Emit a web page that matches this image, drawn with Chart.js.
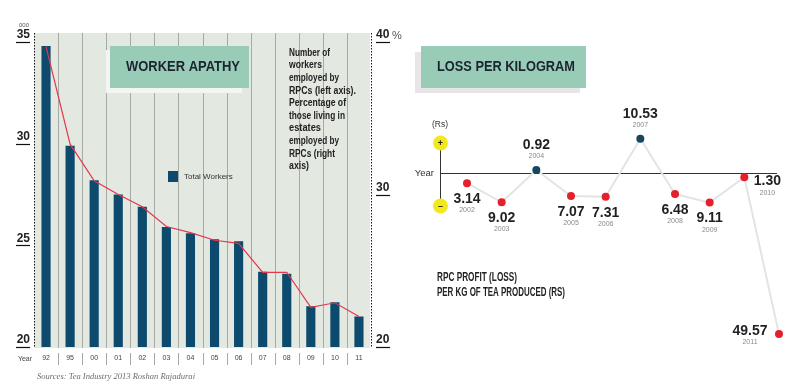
<!DOCTYPE html>
<html><head><meta charset="utf-8">
<script src="https://cdn.jsdelivr.net/npm/chart.js@4.4.0/dist/chart.umd.min.js"></script>
<style>
html,body{margin:0;padding:0;background:#fff;width:798px;height:389px;overflow:hidden}
#c1{position:absolute;left:0;top:0;width:405px;height:389px}
#c2{position:absolute;left:405px;top:0;width:393px;height:389px}
</style></head><body>
<canvas id="c1" width="405" height="389"></canvas>
<canvas id="c2" width="393" height="389"></canvas>
<script>
// ---- Data: Worker apathy ----
const workerYears = ['92','95','00','01','02','03','04','05','06','07','08','09','10','11'];
const totalWorkers = [34.8,29.9,28.2,27.5,26.9,25.9,25.6,25.3,25.2,23.7,23.6,22.0,22.2,21.5]; // '000, left axis
const estatePct = [39.7,33.3,30.9,30.0,29.2,27.9,27.5,27.0,26.8,24.9,24.9,22.6,22.9,22.0];    // %, right axis
const leftTicks = [20,25,30,35];
const rightTicks = [20,30,40];

// ---- Data: Loss per kilogram ----
const lossYears = ['2002','2003','2004','2005','2006','2007','2008','2009','2010','2011'];
const profitLoss = [-3.14,-9.02,0.92,-7.07,-7.31,10.53,-6.48,-9.11,-1.30,-49.57];

const SANS = "'Liberation Sans', Arial, sans-serif";
const SERIF = "'Liberation Serif', 'Times New Roman', serif";

function fitText(ctx, text, x, y, w, font, color, align){
  ctx.save();
  ctx.font = font; ctx.fillStyle = color; ctx.textBaseline = 'middle'; ctx.textAlign = 'left';
  const m = ctx.measureText(text).width;
  const s = w / m;
  const x0 = align === 'center' ? x - w/2 : x;
  ctx.translate(x0, y); ctx.scale(s, 1);
  ctx.fillText(text, 0, 0);
  ctx.restore();
}
function seg(ctx, x1, y1, x2, y2){ ctx.beginPath(); ctx.moveTo(x1,y1); ctx.lineTo(x2,y2); ctx.stroke(); }

const annotation = [
  ['Number of',53,41],['workers',65.6,33],['employed by',78.2,50],['RPCs (left axis).',90.8,67],
  ['Percentage of',103.4,57],['those living in',116,56],['estates',128.6,32],['employed by',141.2,50],
  ['RPCs (right',153.8,46],['axis)',166.4,20]
];

const leftDecor = {
  id:'leftDecor',
  beforeDatasetsDraw(chart){
    const {ctx, chartArea:a, scales:{x}} = chart;
    ctx.save();
    ctx.fillStyle = '#e3e8e1';
    ctx.fillRect(a.left, a.top-9, a.right - a.left - 1, a.bottom - a.top + 10);
    ctx.strokeStyle = '#a6aaa4'; ctx.lineWidth = 1;
    for (let i = 1; i < workerYears.length; i++){
      const gx = Math.round((x.getPixelForValue(i-1) + x.getPixelForValue(i))/2) + 0.5;
      seg(ctx, gx, a.top-9, gx, a.bottom+1);
      seg(ctx, gx, a.bottom+6, gx, a.bottom+18);
    }
    // title box
    ctx.fillStyle = '#f4f5f2'; ctx.fillRect(106, 50, 136, 43);
    ctx.fillStyle = '#98ccb7'; ctx.fillRect(110, 46, 139, 42);
    fitText(ctx, 'WORKER APATHY', 183, 67, 114, 'bold 14px ' + SANS, '#1c2331', 'center');
    ctx.restore();
  },
  afterDraw(chart){
    const {ctx, chartArea:a, scales:{y, y1}} = chart;
    ctx.save();
    // dotted axes
    ctx.strokeStyle = '#111'; ctx.lineWidth = 1; ctx.setLineDash([1.5,1.5]);
    seg(ctx, a.left+0.5, a.top-9, a.left+0.5, a.bottom+1);
    seg(ctx, a.right+0.5, a.top-9, a.right+0.5, a.bottom+1);
    ctx.setLineDash([]);
    // underlines
    ctx.lineWidth = 1.2;
    leftTicks.forEach(v => { const py = Math.round(y.getPixelForValue(v)) + 0.5; seg(ctx, a.left-18, py, a.left-4, py); });
    rightTicks.forEach(v => { const py = Math.round(y1.getPixelForValue(v)) + 0.5; seg(ctx, a.right+5, py, a.right+19, py); });
    // small texts
    ctx.fillStyle = '#555'; ctx.textBaseline = 'middle';
    ctx.font = '6px ' + SANS; ctx.textAlign = 'center'; ctx.fillText('000', 24, 25);
    ctx.font = '11px ' + SANS; ctx.textAlign = 'left'; ctx.fillText('%', 392, 36);
    ctx.fillStyle = '#444'; ctx.font = '7px ' + SANS; ctx.textAlign = 'center'; ctx.fillText('Year', 25, 359);
    fitText(ctx, 'Sources: Tea Industry 2013 Roshan Rajadurai', 37, 377, 158, 'italic 9px ' + SERIF, '#6b6b6b', 'left');
    // legend
    const ds = chart.data.datasets[0];
    ctx.fillStyle = ds.backgroundColor; ctx.fillRect(168, 171, 10, 11);
    ctx.fillStyle = '#333'; ctx.font = '8px ' + SANS; ctx.textAlign = 'left'; ctx.fillText(ds.label, 184, 177);
    // annotation
    annotation.forEach(([t, ly, w]) => fitText(ctx, t, 289, ly, w, 'bold 10.5px ' + SANS, '#222', 'left'));
    ctx.restore();
  }
};

new Chart(document.getElementById('c1'), {
  type:'bar',
  data:{
    labels: workerYears,
    datasets:[
      {type:'bar', label:'Total Workers', data: totalWorkers, yAxisID:'y', backgroundColor:'#0c4a6e',
       barPercentage:0.38, categoryPercentage:1, order:1},
      {type:'line', label:'Percentage living in estates employed by RPCs', data: estatePct, yAxisID:'y1',
       borderColor:'#e5364c', borderWidth:1.2, pointRadius:0, tension:0, order:0}
    ]
  },
  options:{
    responsive:false, animation:false, devicePixelRatio:1,
    layout:{padding:{top:42, left:0, right:0, bottom:0}},
    plugins:{legend:{display:false}, tooltip:{enabled:false}},
    scales:{
      x:{type:'category', offset:true, grid:{display:false, drawTicks:false}, border:{display:false},
         ticks:{font:{family:SANS, size:7}, color:'#444', padding:7, maxRotation:0, autoSkip:false},
         afterFit(s){ s.height = 42; }},
      y:{position:'left', min:20, max:35, grid:{display:false, drawTicks:false}, border:{display:false},
         afterBuildTicks(s){ s.ticks = leftTicks.map(v => ({value:v})); },
         ticks:{font:{family:SANS, size:12, weight:'bold'}, color:'#222', padding:4, labelOffset:-7},
         afterFit(s){ s.width = 34; }},
      y1:{position:'right', min:20, max:40, grid:{display:false, drawTicks:false}, border:{display:false},
         afterBuildTicks(s){ s.ticks = rightTicks.map(v => ({value:v})); },
         ticks:{font:{family:SANS, size:12, weight:'bold'}, color:'#222', padding:5, labelOffset:-7},
         afterFit(s){ s.width = 34; }}
    }
  },
  plugins:[leftDecor]
});

// ---- Right chart ----
const placement = ['below','below','above','below','below','above','below','below','right','left'];
const rightDecor = {
  id:'rightDecor',
  beforeDatasetsDraw(chart){
    const {ctx, scales:{y}} = chart;
    ctx.save();
    ctx.fillStyle = '#e7e5e8'; ctx.fillRect(10, 52, 165, 41);
    ctx.fillStyle = '#98ccb7'; ctx.fillRect(16, 46, 165, 42);
    fitText(ctx, 'LOSS PER KILOGRAM', 101, 67, 138, 'bold 14px ' + SANS, '#1c2331', 'center');
    const y0 = Math.round(y.getPixelForValue(0)) + 0.5;
    ctx.strokeStyle = '#333'; ctx.lineWidth = 1;
    seg(ctx, 36, y0, 372, y0);
    seg(ctx, 35.5, 143, 35.5, 206);
    [[143,'+'],[206,'\u2013']].forEach(([cy, s]) => {
      ctx.beginPath(); ctx.arc(35.5, cy, 7.5, 0, Math.PI*2); ctx.fillStyle = '#f3e81a'; ctx.fill();
      ctx.fillStyle = '#222'; ctx.font = 'bold 9px ' + SANS; ctx.textAlign = 'center'; ctx.textBaseline = 'middle';
      ctx.fillText(s, 35.5, cy + 0.5);
    });
    ctx.fillStyle = '#333'; ctx.font = '8.5px ' + SANS; ctx.textAlign = 'center'; ctx.fillText('(Rs)', 35, 125);
    ctx.font = '9.5px ' + SANS; ctx.textAlign = 'right'; ctx.fillText('Year', 29, y0);
    fitText(ctx, 'RPC PROFIT (LOSS)', 32, 277, 80, 'bold 13px ' + SANS, '#222', 'left');
    fitText(ctx, 'PER KG OF TEA PRODUCED (RS)', 32, 292, 128, 'bold 13px ' + SANS, '#222', 'left');
    ctx.restore();
  },
  afterDatasetsDraw(chart){
    const {ctx} = chart;
    const meta = chart.getDatasetMeta(0);
    ctx.save();
    ctx.textAlign = 'center'; ctx.textBaseline = 'middle';
    meta.data.forEach((pt, i) => {
      const v = Math.abs(profitLoss[i]).toFixed(2);
      let dx = 0, dy = 16, ydx = 0, ydy = 27;
      const p = placement[i];
      if (p === 'above'){ dy = -25; ydy = -14; }
      else if (p === 'right'){ dx = 23; dy = 4; ydx = 23; ydy = 16; }
      else if (p === 'left'){ dx = -29; dy = -3; ydx = -29; ydy = 8; }
      ctx.fillStyle = '#1f1f24'; ctx.font = 'bold 14px ' + SANS;
      ctx.fillText(v, pt.x + dx, pt.y + dy);
      ctx.fillStyle = '#8a8a8a'; ctx.font = '7px ' + SANS;
      ctx.fillText(lossYears[i], pt.x + ydx, pt.y + ydy);
    });
    ctx.restore();
  }
};

new Chart(document.getElementById('c2'), {
  type:'line',
  data:{
    labels: lossYears,
    datasets:[{label:'RPC profit (loss) per kg', data: profitLoss, borderColor:'#dfe6e3', borderWidth:2,
      tension:0, clip:false, pointRadius:4, pointBorderWidth:0,
      pointBackgroundColor: c => (c.raw >= 0 ? '#17475f' : '#e3202c')}]
  },
  options:{
    responsive:false, animation:false, devicePixelRatio:1,
    layout:{padding:{left:62, right:19, top:124.25, bottom:37.25}},
    plugins:{legend:{display:false}, tooltip:{enabled:false}},
    scales:{
      x:{type:'category', offset:false, display:false},
      y:{min:-55, max:15, display:false}
    }
  },
  plugins:[rightDecor]
});
</script>
</body></html>
